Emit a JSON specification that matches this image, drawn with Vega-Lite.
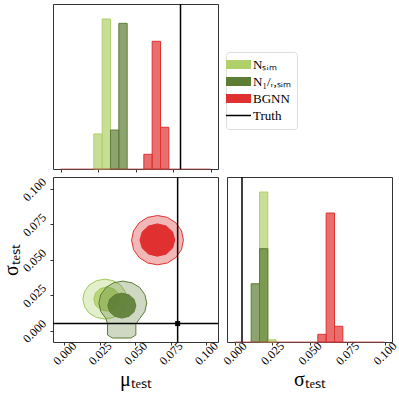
{
  "$schema": "https://vega.github.io/schema/vega-lite/v6.json",
  "background": "white",
  "padding": {"top": 2, "left": 0, "right": 2, "bottom": 2},
  "config": {
    "font": "Liberation Serif",
    "view": {"stroke": "#333", "strokeWidth": 1},
    "axis": {"labelFont": "Liberation Serif", "titleFont": "Liberation Serif", "labelColor": "black", "titleColor": "black", "tickColor": "#333", "domain": false, "grid": false, "tickSize": 3, "labelFontSize": 12, "titleFontWeight": "normal"}
  },
  "datasets": {
    "hist": [
      {"param": "mu", "series": "N_sim", "x0": 0.02222, "x1": 0.02778, "d": 34.1},
      {"param": "mu", "series": "N_sim", "x0": 0.02778, "x1": 0.03333, "d": 146.0},
      {"param": "mu", "series": "N_1/r,sim", "x0": 0.03333, "x1": 0.03889, "d": 37.9},
      {"param": "mu", "series": "N_1/r,sim", "x0": 0.03889, "x1": 0.04444, "d": 141.8},
      {"param": "mu", "series": "BGNN", "x0": 0.05556, "x1": 0.06111, "d": 14.3},
      {"param": "mu", "series": "BGNN", "x0": 0.06111, "x1": 0.06667, "d": 124.3},
      {"param": "mu", "series": "BGNN", "x0": 0.06667, "x1": 0.07222, "d": 40.6},
      {"param": "sigma", "series": "N_sim", "x0": 0.01667, "x1": 0.02222, "d": 177.6},
      {"param": "sigma", "series": "N_sim", "x0": 0.02222, "x1": 0.02778, "d": 2.7},
      {"param": "sigma", "series": "N_1/r,sim", "x0": 0.01111, "x1": 0.01667, "d": 69.0},
      {"param": "sigma", "series": "N_1/r,sim", "x0": 0.01667, "x1": 0.02222, "d": 110.5},
      {"param": "sigma", "series": "BGNN", "x0": 0.05556, "x1": 0.06111, "d": 9.1},
      {"param": "sigma", "series": "BGNN", "x0": 0.06111, "x1": 0.06667, "d": 152.7},
      {"param": "sigma", "series": "BGNN", "x0": 0.06667, "x1": 0.07222, "d": 18.6}
    ],
    "base": [{"x0": 0, "x1": 0.1, "y": 0}],
    "truth": [{"mu": 0.08, "sigma": 0.005}],
    "contours": [
      {"c": "sim_outer", "o": 0, "x": 0.0441, "y": 0.0223},
      {"c": "sim_outer", "o": 1, "x": 0.0429, "y": 0.0277},
      {"c": "sim_outer", "o": 2, "x": 0.0396, "y": 0.0323},
      {"c": "sim_outer", "o": 3, "x": 0.0345, "y": 0.0353},
      {"c": "sim_outer", "o": 4, "x": 0.0286, "y": 0.0364},
      {"c": "sim_outer", "o": 5, "x": 0.0227, "y": 0.0353},
      {"c": "sim_outer", "o": 6, "x": 0.0176, "y": 0.0323},
      {"c": "sim_outer", "o": 7, "x": 0.0143, "y": 0.0277},
      {"c": "sim_outer", "o": 8, "x": 0.0131, "y": 0.0223},
      {"c": "sim_outer", "o": 9, "x": 0.0143, "y": 0.0169},
      {"c": "sim_outer", "o": 10, "x": 0.0176, "y": 0.0123},
      {"c": "sim_outer", "o": 11, "x": 0.0227, "y": 0.0093},
      {"c": "sim_outer", "o": 12, "x": 0.0286, "y": 0.0082},
      {"c": "sim_outer", "o": 13, "x": 0.0345, "y": 0.0093},
      {"c": "sim_outer", "o": 14, "x": 0.0396, "y": 0.0123},
      {"c": "sim_outer", "o": 15, "x": 0.0429, "y": 0.0169},
      {"c": "sim_inner", "o": 0, "x": 0.0392, "y": 0.0223},
      {"c": "sim_inner", "o": 1, "x": 0.0380, "y": 0.0266},
      {"c": "sim_inner", "o": 2, "x": 0.0346, "y": 0.0297},
      {"c": "sim_inner", "o": 3, "x": 0.0300, "y": 0.0308},
      {"c": "sim_inner", "o": 4, "x": 0.0254, "y": 0.0297},
      {"c": "sim_inner", "o": 5, "x": 0.0220, "y": 0.0266},
      {"c": "sim_inner", "o": 6, "x": 0.0208, "y": 0.0223},
      {"c": "sim_inner", "o": 7, "x": 0.0220, "y": 0.0180},
      {"c": "sim_inner", "o": 8, "x": 0.0254, "y": 0.0149},
      {"c": "sim_inner", "o": 9, "x": 0.0300, "y": 0.0138},
      {"c": "sim_inner", "o": 10, "x": 0.0346, "y": 0.0149},
      {"c": "sim_inner", "o": 11, "x": 0.0380, "y": 0.0180},
      {"c": "r_outer", "o": 0, "x": 0.0582, "y": 0.0195},
      {"c": "r_outer", "o": 1, "x": 0.0569, "y": 0.0254},
      {"c": "r_outer", "o": 2, "x": 0.0532, "y": 0.0305},
      {"c": "r_outer", "o": 3, "x": 0.0478, "y": 0.0338},
      {"c": "r_outer", "o": 4, "x": 0.0413, "y": 0.0350},
      {"c": "r_outer", "o": 5, "x": 0.0348, "y": 0.0338},
      {"c": "r_outer", "o": 6, "x": 0.0294, "y": 0.0305},
      {"c": "r_outer", "o": 7, "x": 0.0257, "y": 0.0254},
      {"c": "r_outer", "o": 8, "x": 0.0244, "y": 0.0195},
      {"c": "r_outer", "o": 9, "x": 0.0257, "y": 0.0136},
      {"c": "r_outer", "o": 10, "x": 0.0294, "y": 0.0085},
      {"c": "r_outer", "o": 11, "x": 0.0305, "y": 0.0047},
      {"c": "r_outer", "o": 12, "x": 0.0305, "y": -0.0031},
      {"c": "r_outer", "o": 13, "x": 0.0340, "y": -0.0052},
      {"c": "r_outer", "o": 14, "x": 0.0470, "y": -0.0052},
      {"c": "r_outer", "o": 15, "x": 0.0505, "y": -0.0031},
      {"c": "r_outer", "o": 16, "x": 0.0505, "y": 0.0047},
      {"c": "r_outer", "o": 17, "x": 0.0532, "y": 0.0085},
      {"c": "r_outer", "o": 18, "x": 0.0569, "y": 0.0136},
      {"c": "r_inner", "o": 0, "x": 0.0505, "y": 0.0177},
      {"c": "r_inner", "o": 1, "x": 0.0492, "y": 0.0221},
      {"c": "r_inner", "o": 2, "x": 0.0456, "y": 0.0253},
      {"c": "r_inner", "o": 3, "x": 0.0406, "y": 0.0265},
      {"c": "r_inner", "o": 4, "x": 0.0357, "y": 0.0253},
      {"c": "r_inner", "o": 5, "x": 0.0320, "y": 0.0221},
      {"c": "r_inner", "o": 6, "x": 0.0307, "y": 0.0177},
      {"c": "r_inner", "o": 7, "x": 0.0320, "y": 0.0133},
      {"c": "r_inner", "o": 8, "x": 0.0357, "y": 0.0101},
      {"c": "r_inner", "o": 9, "x": 0.0406, "y": 0.0089},
      {"c": "r_inner", "o": 10, "x": 0.0456, "y": 0.0101},
      {"c": "r_inner", "o": 11, "x": 0.0492, "y": 0.0133},
      {"c": "bg_outer", "o": 0, "x": 0.0841, "y": 0.0639},
      {"c": "bg_outer", "o": 1, "x": 0.0827, "y": 0.0706},
      {"c": "bg_outer", "o": 2, "x": 0.0787, "y": 0.0762},
      {"c": "bg_outer", "o": 3, "x": 0.0728, "y": 0.0800},
      {"c": "bg_outer", "o": 4, "x": 0.0658, "y": 0.0813},
      {"c": "bg_outer", "o": 5, "x": 0.0588, "y": 0.0800},
      {"c": "bg_outer", "o": 6, "x": 0.0529, "y": 0.0762},
      {"c": "bg_outer", "o": 7, "x": 0.0489, "y": 0.0706},
      {"c": "bg_outer", "o": 8, "x": 0.0475, "y": 0.0639},
      {"c": "bg_outer", "o": 9, "x": 0.0489, "y": 0.0572},
      {"c": "bg_outer", "o": 10, "x": 0.0529, "y": 0.0516},
      {"c": "bg_outer", "o": 11, "x": 0.0588, "y": 0.0478},
      {"c": "bg_outer", "o": 12, "x": 0.0658, "y": 0.0465},
      {"c": "bg_outer", "o": 13, "x": 0.0728, "y": 0.0478},
      {"c": "bg_outer", "o": 14, "x": 0.0787, "y": 0.0516},
      {"c": "bg_outer", "o": 15, "x": 0.0827, "y": 0.0572},
      {"c": "bg_inner", "o": 0, "x": 0.0780, "y": 0.0640},
      {"c": "bg_inner", "o": 1, "x": 0.0764, "y": 0.0697},
      {"c": "bg_inner", "o": 2, "x": 0.0719, "y": 0.0739},
      {"c": "bg_inner", "o": 3, "x": 0.0657, "y": 0.0754},
      {"c": "bg_inner", "o": 4, "x": 0.0595, "y": 0.0739},
      {"c": "bg_inner", "o": 5, "x": 0.0550, "y": 0.0697},
      {"c": "bg_inner", "o": 6, "x": 0.0534, "y": 0.0640},
      {"c": "bg_inner", "o": 7, "x": 0.0550, "y": 0.0583},
      {"c": "bg_inner", "o": 8, "x": 0.0595, "y": 0.0541},
      {"c": "bg_inner", "o": 9, "x": 0.0657, "y": 0.0526},
      {"c": "bg_inner", "o": 10, "x": 0.0719, "y": 0.0541},
      {"c": "bg_inner", "o": 11, "x": 0.0764, "y": 0.0583}
    ]
  },
  "resolve": {"scale": {"color": "independent", "stroke": "independent"}, "legend": {"color": "independent"}},
  "bounds": "flush",
  "spacing": 8,
  "vconcat": [
    {
      "width": 165,
      "height": 165,
      "layer": [
        {
          "data": {"name": "hist"},
          "transform": [{"filter": "datum.param == 'mu'"}],
          "mark": {"type": "bar", "fillOpacity": 0.7, "strokeWidth": 1},
          "encoding": {
            "x": {"field": "x0", "type": "quantitative", "scale": {"domain": [-0.005, 0.105], "nice": false, "zero": false}, "axis": {"values": [0, 0.025, 0.05, 0.075, 0.1], "labels": false, "title": null}},
            "x2": {"field": "x1"},
            "y": {"field": "d", "type": "quantitative", "stack": null, "scale": {"domain": [0, 160.6], "nice": false}, "axis": null},
            "y2": {"datum": 0},
            "color": {
              "field": "series", "type": "nominal",
              "scale": {"domain": ["N_sim", "N_1/r,sim", "BGNN", "Truth"], "range": ["#b0d06a", "#5d7d35", "#e03030", "#000000"]},
              "legend": {
                "orient": "none", "legendX": 173, "legendY": 48, "title": null,
                "labelFont": "Liberation Serif", "labelFontSize": 13, "labelColor": "black",
                "symbolSize": 625, "symbolOpacity": 1, "symbolStrokeColor": "black",
                "strokeColor": "#ddd", "cornerRadius": 3, "padding": 6, "rowPadding": 3, "fillColor": "white", "labelOffset": 8,
                "labelExpr": "datum.label == 'N_sim' ? 'Nₛᵢₘ' : datum.label == 'N_1/r,sim' ? 'N₁/ᵣ,ₛᵢₘ' : datum.label",
                "encode": {"symbols": {"update": {
                  "shape": {"signal": "datum.value == 'Truth' ? 'stroke' : 'M-1,-0.36L1,-0.36L1,0.36L-1,0.36Z'"},
                  "strokeWidth": {"signal": "datum.value == 'Truth' ? 1.5 : 0"}
                }}}
              }
            },
            "stroke": {"field": "series", "type": "nominal", "scale": {"domain": ["N_sim", "N_1/r,sim", "BGNN"], "range": ["#b0d06a", "#5d7d35", "#e03030"]}, "legend": null}
          }
        },
        {
          "data": {"name": "base"},
          "mark": {"type": "rule", "color": "#c0504d", "strokeWidth": 1, "opacity": 0.8},
          "encoding": {"x": {"field": "x0", "type": "quantitative"}, "x2": {"field": "x1"}, "y": {"field": "y", "type": "quantitative"}}
        },
        {
          "data": {"name": "truth"},
          "mark": {"type": "rule", "color": "black", "strokeWidth": 1.5},
          "encoding": {"x": {"field": "mu", "type": "quantitative"}}
        }
      ]
    },
    {
      "spacing": 9,
      "bounds": "flush",
      "resolve": {"scale": {"color": "independent", "stroke": "independent"}},
      "hconcat": [
        {
          "width": 165,
          "height": 165,
          "layer": [
            {"data": {"name": "contours"}, "transform": [{"filter": "datum.c == 'sim_outer'"}], "mark": {"type": "line", "interpolate": "linear-closed", "fill": "#b0d06a", "fillOpacity": 0.35, "stroke": "#a5c85a", "strokeWidth": 1},
             "encoding": {
               "x": {"field": "x", "type": "quantitative", "scale": {"domain": [-0.008, 0.1085], "nice": false, "zero": false}, "axis": {"values": [0, 0.025, 0.05, 0.075, 0.1], "format": ".3f", "labelAngle": -45, "labelAlign": "center", "labelBaseline": "middle", "labelPadding": 8, "title": "μₜₑₛₜ", "titleFontSize": 20, "titlePadding": 3}},
               "y": {"field": "y", "type": "quantitative", "scale": {"domain": [-0.008, 0.1085], "nice": false, "zero": false}, "axis": {"values": [0, 0.025, 0.05, 0.075, 0.1], "format": ".3f", "labelAngle": -45, "labelAlign": "center", "labelBaseline": "middle", "labelPadding": 16, "title": "σₜₑₛₜ", "titleFontSize": 20, "titlePadding": -1}},
               "order": {"field": "o", "type": "quantitative"}
             }},
            {"data": {"name": "contours"}, "transform": [{"filter": "datum.c == 'sim_inner'"}], "mark": {"type": "line", "interpolate": "linear-closed", "fill": "#b0d06a", "fillOpacity": 0.85, "stroke": "#a5c85a", "strokeWidth": 1},
             "encoding": {"x": {"field": "x", "type": "quantitative"}, "y": {"field": "y", "type": "quantitative"}, "order": {"field": "o", "type": "quantitative"}}},
            {"data": {"name": "contours"}, "transform": [{"filter": "datum.c == 'r_outer'"}], "mark": {"type": "line", "interpolate": "linear-closed", "fill": "#5d7d35", "fillOpacity": 0.3, "stroke": "#5d7d35", "strokeWidth": 1},
             "encoding": {"x": {"field": "x", "type": "quantitative"}, "y": {"field": "y", "type": "quantitative"}, "order": {"field": "o", "type": "quantitative"}}},
            {"data": {"name": "contours"}, "transform": [{"filter": "datum.c == 'r_inner'"}], "mark": {"type": "line", "interpolate": "linear-closed", "fill": "#5d7d35", "fillOpacity": 0.9, "stroke": "#5d7d35", "strokeWidth": 1},
             "encoding": {"x": {"field": "x", "type": "quantitative"}, "y": {"field": "y", "type": "quantitative"}, "order": {"field": "o", "type": "quantitative"}}},
            {"data": {"name": "contours"}, "transform": [{"filter": "datum.c == 'bg_outer'"}], "mark": {"type": "line", "interpolate": "linear-closed", "fill": "#e03030", "fillOpacity": 0.35, "stroke": "#e03030", "strokeWidth": 1},
             "encoding": {"x": {"field": "x", "type": "quantitative"}, "y": {"field": "y", "type": "quantitative"}, "order": {"field": "o", "type": "quantitative"}}},
            {"data": {"name": "contours"}, "transform": [{"filter": "datum.c == 'bg_inner'"}], "mark": {"type": "line", "interpolate": "linear-closed", "fill": "#e03030", "fillOpacity": 1, "stroke": "#e03030", "strokeWidth": 1},
             "encoding": {"x": {"field": "x", "type": "quantitative"}, "y": {"field": "y", "type": "quantitative"}, "order": {"field": "o", "type": "quantitative"}}},
            {"data": {"name": "truth"}, "mark": {"type": "rule", "color": "black", "strokeWidth": 1.5}, "encoding": {"x": {"field": "mu", "type": "quantitative"}}},
            {"data": {"name": "truth"}, "mark": {"type": "rule", "color": "black", "strokeWidth": 1.5}, "encoding": {"y": {"field": "sigma", "type": "quantitative"}}},
            {"data": {"name": "truth"}, "mark": {"type": "point", "shape": "square", "filled": true, "color": "black", "size": 25, "opacity": 1}, "encoding": {"x": {"field": "mu", "type": "quantitative"}, "y": {"field": "sigma", "type": "quantitative"}}}
          ]
        },
        {
          "width": 165,
          "height": 165,
          "layer": [
            {
              "data": {"name": "hist"},
              "transform": [{"filter": "datum.param == 'sigma'"}],
              "mark": {"type": "bar", "fillOpacity": 0.7, "strokeWidth": 1},
              "encoding": {
                "x": {"field": "x0", "type": "quantitative", "scale": {"domain": [-0.005, 0.105], "nice": false, "zero": false}, "axis": {"values": [0, 0.025, 0.05, 0.075, 0.1], "format": ".3f", "labelAngle": -45, "labelAlign": "center", "labelBaseline": "middle", "labelPadding": 8, "title": "σₜₑₛₜ", "titleFontSize": 20, "titlePadding": 3}},
                "x2": {"field": "x1"},
                "y": {"field": "d", "type": "quantitative", "stack": null, "scale": {"domain": [0, 195.4], "nice": false}, "axis": null},
                "y2": {"datum": 0},
                "color": {"field": "series", "type": "nominal", "scale": {"domain": ["N_sim", "N_1/r,sim", "BGNN"], "range": ["#b0d06a", "#5d7d35", "#e03030"]}, "legend": null},
                "stroke": {"field": "series", "type": "nominal", "scale": {"domain": ["N_sim", "N_1/r,sim", "BGNN"], "range": ["#b0d06a", "#5d7d35", "#e03030"]}, "legend": null}
              }
            },
            {
              "data": {"name": "base"},
              "mark": {"type": "rule", "color": "#c0504d", "strokeWidth": 1, "opacity": 0.8},
              "encoding": {"x": {"field": "x0", "type": "quantitative"}, "x2": {"field": "x1"}, "y": {"field": "y", "type": "quantitative"}}
            },
            {
              "data": {"name": "truth"},
              "mark": {"type": "rule", "color": "black", "strokeWidth": 1.5},
              "encoding": {"x": {"field": "sigma", "type": "quantitative"}}
            }
          ]
        }
      ]
    }
  ]
}
